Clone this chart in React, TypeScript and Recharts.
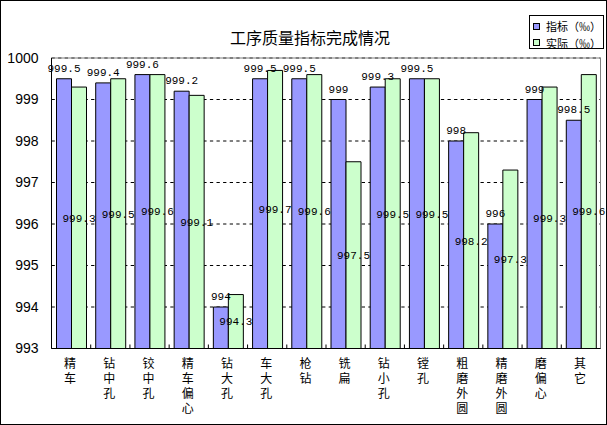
import { BarChart, Bar, XAxis, YAxis, CartesianGrid, LabelList, ReferenceArea } from 'recharts';

const categories = [
  '精车', '钻中孔', '铰中孔', '精车偏心', '钻大孔', '车大孔', '枪钻',
  '铣扁', '钻小孔', '镗孔', '粗磨外圆', '精磨外圆', '磨偏心', '其它',
];
const targetValues = [999.5, 999.4, 999.6, 999.2, 994, 999.5, 999.5, 999, 999.3, 999.5, 998, 996, 999, 998.5];
const actualValues = [999.3, 999.5, 999.6, 999.1, 994.3, 999.7, 999.6, 997.5, 999.5, 999.5, 998.2, 997.3, 999.3, 999.6];
const yTicks = [993, 994, 995, 996, 997, 998, 999, 1000];
const seriesNames = ['指标（‰）', '实际（‰）'];
const seriesColors = ['#9999FF', '#CCFFCC'];

const data = categories.map((name, i) => ({
  name,
  target: targetValues[i],
  actual: actualValues[i],
}));

const W = 607;
const H = 425;
const PLOT_LEFT = 51.5;
const PLOT_RIGHT = 600.5;
const BAND = (PLOT_RIGHT - PLOT_LEFT) / categories.length;

const cjk = '"Noto Sans CJK SC", sans-serif';
const mono = '"Liberation Mono", "DejaVu Sans Mono", monospace';

// category names are written top-to-bottom, one character per line
function CategoryTick(props: any) {
  const { x, y, payload, index } = props;
  return (
    <g>
      {index > 0 && (
        <line x1={x - BAND / 2} x2={x - BAND / 2} y1={y} y2={y - 4} stroke="#000" />
      )}
      <text
        x={x - 1}
        y={y + 9}
        fontSize={12}
        fontFamily={cjk}
        fill="#000"
        style={{ writingMode: 'vertical-rl', letterSpacing: 3 }}
      >
        {String(payload.value)}
      </text>
    </g>
  );
}

export default function App() {
  return (
    <div style={{ position: 'absolute', left: 0, top: 0, width: W, height: H, background: '#fff' }}>
      <BarChart
        width={W}
        height={H}
        data={data}
        margin={{ top: 58, right: W - PLOT_RIGHT, bottom: 16.5, left: 7.5 }}
        barGap={0}
        barSize={15}
      >
        <CartesianGrid horizontal vertical={false} stroke="#000" strokeDasharray="3.3 3.3" />
        <ReferenceArea y1={993} y2={1000} stroke="#808080" fill="none" fillOpacity={0} />
        <XAxis
          dataKey="name"
          interval={0}
          height={60}
          tickSize={0}
          tickMargin={0}
          tickLine={false}
          axisLine={{ stroke: '#000' }}
          tick={<CategoryTick />}
        />
        <YAxis
          width={44}
          domain={[993, 1000]}
          ticks={yTicks}
          allowDataOverflow
          tickSize={0}
          tickMargin={13}
          tickLine={false}
          axisLine={{ stroke: '#000' }}
          tick={{ fill: '#000', fontSize: 14, fontFamily: '"Liberation Sans", Arial, sans-serif' }}
        />
        <Bar dataKey="target" fill={seriesColors[0]} stroke="#000" strokeWidth={1} isAnimationActive={false}>
          <LabelList dataKey="target" position="top" offset={7} fill="#000" fontSize={11} fontFamily={mono} />
        </Bar>
        <Bar dataKey="actual" fill={seriesColors[1]} stroke="#000" strokeWidth={1} isAnimationActive={false}>
          <LabelList dataKey="actual" position="center" fill="#000" fontSize={11} fontFamily={mono} />
        </Bar>
      </BarChart>

      {/* title */}
      <div
        style={{
          position: 'absolute', left: 160, top: 29, width: 300, textAlign: 'center',
          fontFamily: cjk, fontSize: 16, lineHeight: '16px', color: '#000',
        }}
      >
        工序质量指标完成情况
      </div>

      {/* legend */}
      <div
        style={{
          position: 'absolute', left: 529, top: 15, width: 75, height: 34, boxSizing: 'border-box',
          border: '1px solid #000', background: '#fff', fontFamily: cjk, fontSize: 11, color: '#000',
        }}
      >
        {seriesNames.map((name, i) => (
          <div key={i} style={{ position: 'absolute', left: 3, top: 3 + i * 16.5, height: 14, display: 'flex', alignItems: 'center' }}>
            <span
              style={{
                display: 'inline-block', width: 7, height: 7, boxSizing: 'border-box',
                border: '1px solid #000', background: seriesColors[i], marginRight: 6,
              }}
            />
            <span style={{ lineHeight: '14px', whiteSpace: 'nowrap' }}>{name}</span>
          </div>
        ))}
      </div>

      {/* outer frame */}
      <div
        style={{
          position: 'absolute', left: 0, top: 0, width: W, height: H, boxSizing: 'border-box',
          border: '1px solid #000', pointerEvents: 'none',
        }}
      />
    </div>
  );
}
